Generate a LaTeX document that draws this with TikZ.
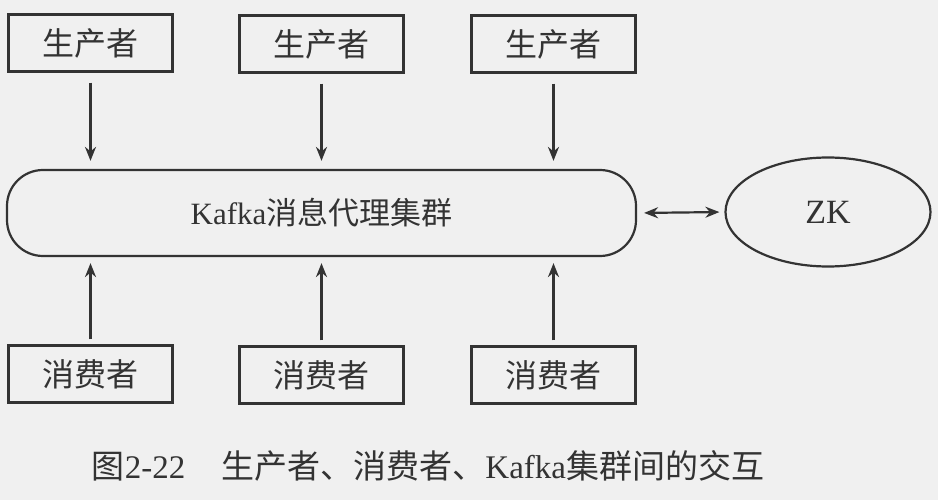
\documentclass[tikz,border=0pt]{standalone}
\usepackage{fontspec}
\setmainfont{Liberation Serif}
\newfontfamily\cjk{Noto Sans CJK SC}
\usetikzlibrary{arrows.meta,shapes.geometric}
\begin{document}
\begin{tikzpicture}[x=1pt,y=-1pt,
  ink/.style={draw=black!80,line width=2.2pt},
  pbox/.style={ink,rectangle,minimum width=164pt,minimum height=57pt,inner sep=0pt,font=\cjk\fontsize{32}{32}\selectfont,text=black!80},
  conn/.style={line width=2.2pt,draw=black!80,-{Stealth[length=14pt,width=11pt]}},
  dconn/.style={line width=2.2pt,draw=black!80,{Stealth[length=14pt,width=11pt]}-{Stealth[length=14pt,width=11pt]}}]
\fill[black!6] (0,0) rectangle (938,500);
\useasboundingbox (0,0) rectangle (938,500);
\node[pbox] (p1) at (90.5,43) {生产者};
\node[pbox] (p2) at (321.5,44) {生产者};
\node[pbox] (p3) at (553.5,44) {生产者};
\node[pbox] (c1) at (90.5,374) {消费者};
\node[pbox] (c2) at (321.5,375) {消费者};
\node[pbox] (c3) at (553.5,375) {消费者};
\node[ink,rectangle,rounded corners=36pt,minimum width=629pt,minimum height=86pt,inner sep=0pt,text=black!80] (k) at (321.5,213)
  {\fontsize{31}{31}\selectfont Kafka{\cjk 消息代理集群}};
\node[ink,ellipse,minimum width=205pt,minimum height=109pt,inner sep=0pt,text=black!80,font=\fontsize{34}{34}\selectfont] (zk) at (828,212) {ZK};
\foreach \i in {1,2,3}{
  \draw[conn,shorten <=10pt,shorten >=8pt] (p\i.south) -- (p\i.south |- k.north);
  \draw[conn,shorten <=5pt,shorten >=6pt] (c\i.north) -- (c\i.north |- k.south);
}
\draw[dconn,shorten <=7pt,shorten >=5pt] (k.east) -- (zk.west);
\node[text=black!80,font=\cjk\fontsize{33}{33}\selectfont] (cap) at (428,466)
  {图{\rmfamily 2-22}\hspace{36pt}生产者、消费者、{\rmfamily Kafka}集群间的交互};
\end{tikzpicture}
\end{document}
